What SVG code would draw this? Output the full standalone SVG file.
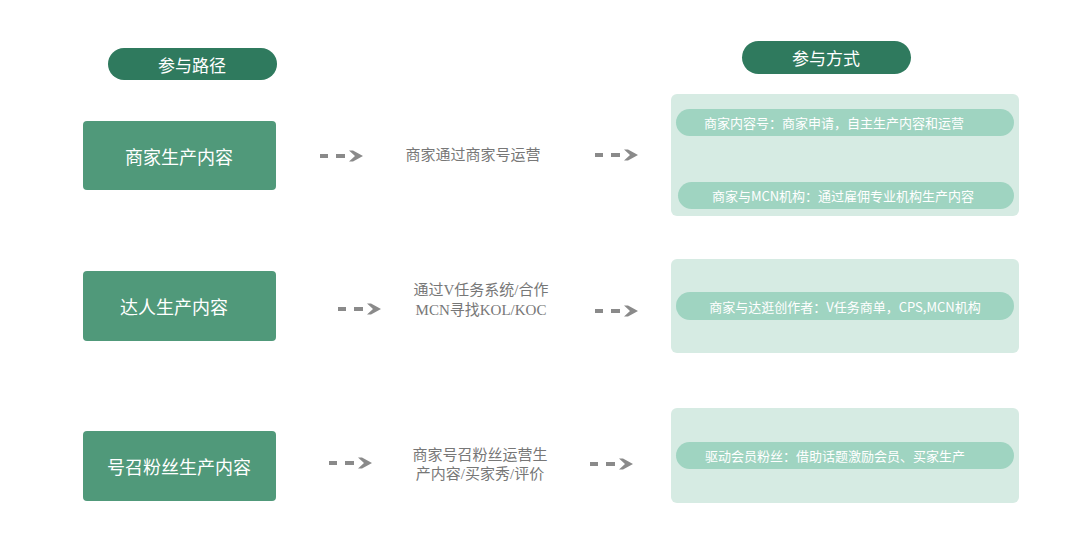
<svg xmlns="http://www.w3.org/2000/svg" width="1080" height="547" viewBox="0 0 1080 547">
<style>
.hdr{fill:#2f7a5e}
.hdrt{fill:#ffffff;font-family:"Noto Sans CJK SC","Noto Sans",sans-serif;font-size:17px;text-anchor:middle;dominant-baseline:central}
.lbox{fill:#50997a}
.lt{fill:#ffffff;font-family:"Noto Sans CJK SC","Noto Sans",sans-serif;font-size:18px;text-anchor:middle;dominant-baseline:central}
.panel{fill:#d6ebe3}
.pill{fill:#9fd4c1}
.pt{fill:#ffffff;font-family:"Noto Sans CJK SC","Noto Sans",sans-serif;font-size:13px;text-anchor:middle;dominant-baseline:central}
.mt{fill:#777777;font-family:"Liberation Serif","Noto Sans CJK SC",serif;font-size:15px;text-anchor:middle;dominant-baseline:central}
.ar{fill:#8a8a8a}
</style>
<defs>
<g id="arrow">
<rect x="0" y="-2" width="8" height="4" class="ar"/>
<rect x="16" y="-2" width="9" height="4" class="ar"/>
<polygon points="29,-5.5 33,-5.5 43,0 33,5.5 29,5.5 35,0" class="ar"/>
</g>
</defs>
<rect width="1080" height="547" fill="#ffffff"/>
<g id="header-path">
<rect x="108" y="48" width="169" height="32" rx="16" class="hdr"/>
<text x="192" y="64" class="hdrt">参与路径</text>
</g>
<g id="header-method">
<rect x="742" y="41" width="169" height="33" rx="16.5" class="hdr"/>
<text x="826" y="57.5" class="hdrt">参与方式</text>
</g>
<g id="node-merchant">
<rect x="83" y="121" width="193" height="69" rx="4" class="lbox"/>
<text x="179" y="156" class="lt">商家生产内容</text>
</g>
<g id="node-kol">
<rect x="83" y="271" width="193" height="70" rx="4" class="lbox"/>
<text x="174" y="306" class="lt">达人生产内容</text>
</g>
<g id="node-fans">
<rect x="83" y="431" width="193" height="70" rx="4" class="lbox"/>
<text x="179" y="466" class="lt">号召粉丝生产内容</text>
</g>
<g id="mid-1">
<text x="473" y="155" class="mt">商家通过商家号运营</text>
</g>
<g id="mid-2">
<text x="481" y="290" class="mt">通过V任务系统/合作</text>
<text x="481" y="310" class="mt">MCN寻找KOL/KOC</text>
</g>
<g id="mid-3">
<text x="480" y="455" class="mt">商家号召粉丝运营生</text>
<text x="480" y="474" class="mt">产内容/买家秀/评价</text>
</g>
<g id="panel-1">
<rect x="671" y="94" width="348" height="122" rx="6" class="panel"/>
<rect x="676" y="109" width="338" height="27" rx="13.5" class="pill"/>
<text x="834" y="122.5" class="pt">商家内容号：商家申请，自主生产内容和运营</text>
<rect x="678" y="182" width="336" height="27" rx="13.5" class="pill"/>
<text x="843" y="195.5" class="pt">商家与MCN机构：通过雇佣专业机构生产内容</text>
</g>
<g id="panel-2">
<rect x="671" y="259" width="348" height="94" rx="6" class="panel"/>
<rect x="676" y="292" width="338" height="28" rx="14" class="pill"/>
<text x="845" y="306" class="pt">商家与达逛创作者：V任务商单，CPS,MCN机构</text>
</g>
<g id="panel-3">
<rect x="671" y="408" width="348" height="95" rx="6" class="panel"/>
<rect x="676" y="442" width="338" height="27" rx="13.5" class="pill"/>
<text x="835" y="455.5" class="pt">驱动会员粉丝：借助话题激励会员、买家生产</text>
</g>
<g id="connectors">
<use href="#arrow" x="320" y="156"/>
<use href="#arrow" x="595" y="155"/>
<use href="#arrow" x="338" y="309"/>
<use href="#arrow" x="595" y="311"/>
<use href="#arrow" x="329" y="463"/>
<use href="#arrow" x="590" y="464"/>
</g>
</svg>
